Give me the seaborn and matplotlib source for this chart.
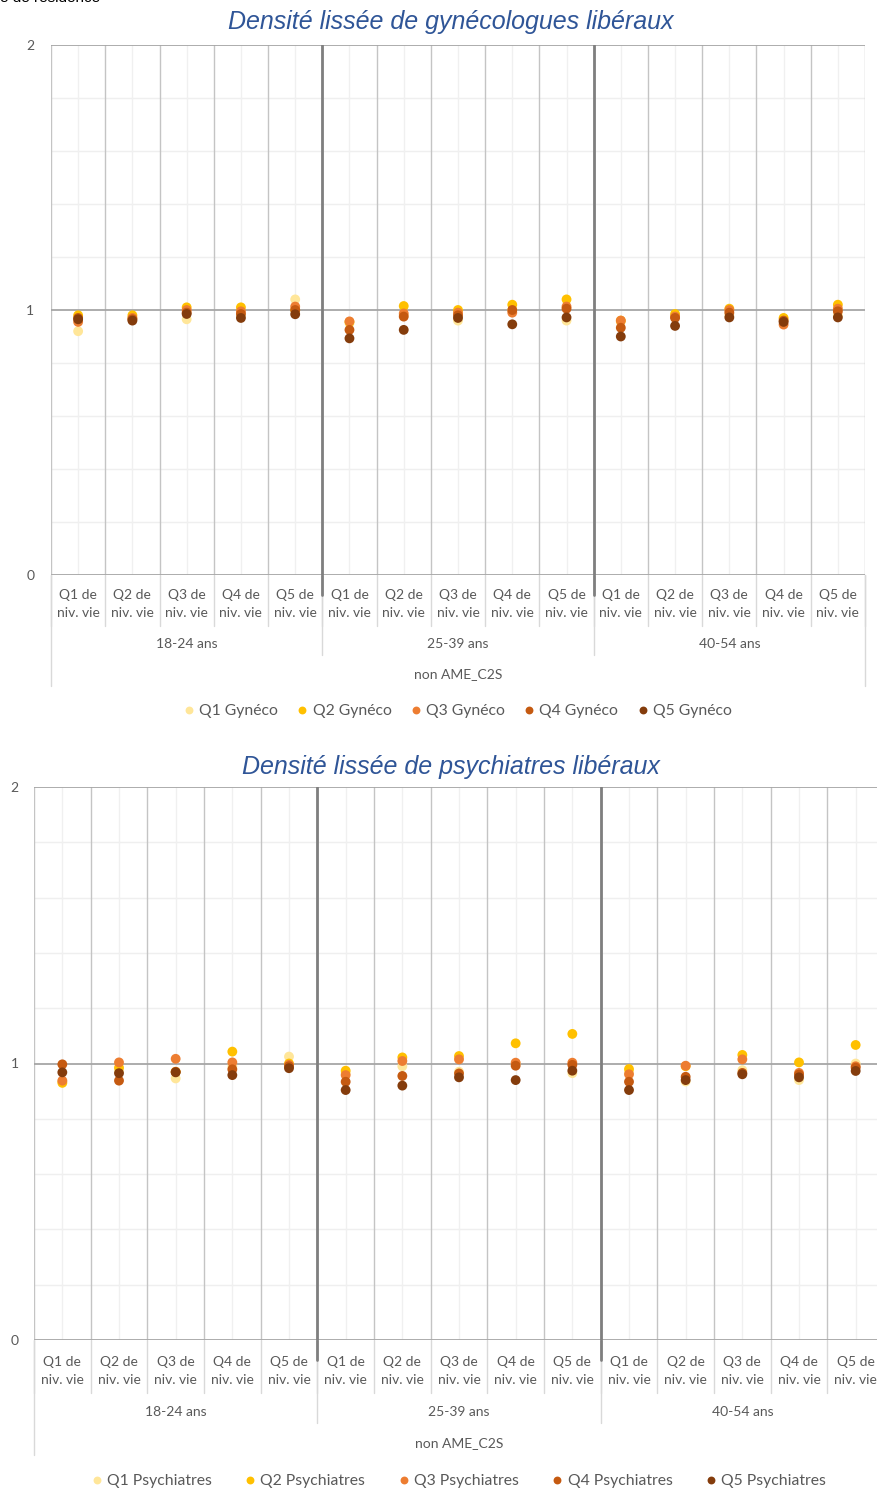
import numpy as np
import pandas as pd
import matplotlib.pyplot as plt
import seaborn as sns

# Catégories (axe x à deux niveaux)
niveaux = ["Q1 de\nniv. vie", "Q2 de\nniv. vie", "Q3 de\nniv. vie", "Q4 de\nniv. vie", "Q5 de\nniv. vie"]
ages = ["18-24 ans", "25-39 ans", "40-54 ans"]
groupe = "non AME_C2S"

# Densité lissée de gynécologues
gyn_q1 = [0.92, 0.97, 0.965, 0.98, 1.04, 0.95, 0.98, 0.96, 1.0, 0.96, 0.955, 0.975, 0.98, 0.965, 0.98]
gyn_q2 = [0.98, 0.98, 1.01, 1.01, 1.0, 0.955, 1.015, 1.0, 1.02, 1.04, 0.96, 0.985, 1.005, 0.97, 1.02]
gyn_q3 = [0.955, 0.97, 1.0, 0.995, 1.013, 0.957, 0.987, 0.99, 0.99, 1.013, 0.96, 0.975, 1.0, 0.945, 1.005]
gyn_q4 = [0.97, 0.965, 0.99, 0.985, 1.0, 0.925, 0.975, 0.98, 1.0, 1.005, 0.933, 0.97, 0.99, 0.96, 0.995]
gyn_q5 = [0.965, 0.96, 0.985, 0.97, 0.984, 0.893, 0.925, 0.97, 0.946, 0.972, 0.9, 0.94, 0.972, 0.955, 0.972]

# Densité lissée de psychiatres
psy_q1 = [0.935, 0.975, 0.946, 0.99, 1.025, 0.965, 0.99, 0.97, 1.0, 0.965, 0.97, 0.935, 0.976, 0.94, 1.0]
psy_q2 = [0.93, 0.985, 0.97, 1.043, 1.0, 0.974, 1.022, 1.027, 1.073, 1.107, 0.98, 0.99, 1.031, 1.004, 1.067]
psy_q3 = [0.938, 1.004, 1.017, 1.004, 0.995, 0.958, 1.009, 1.015, 1.003, 1.003, 0.961, 0.992, 1.015, 0.966, 0.99]
psy_q4 = [0.997, 0.938, 0.97, 0.979, 0.99, 0.934, 0.955, 0.964, 0.992, 0.995, 0.934, 0.952, 0.966, 0.96, 0.985]
psy_q5 = [0.968, 0.965, 0.968, 0.958, 0.983, 0.904, 0.92, 0.95, 0.94, 0.974, 0.904, 0.94, 0.961, 0.95, 0.973]

couleurs = ["#FFE699", "#FFC000", "#ED7D31", "#C55A11", "#843C0C"]

sns.set_style("white")
plt.rcParams['font.family'] = ['Lato', 'DejaVu Sans']

fig = plt.figure(figsize=(8.77, 14.92), dpi=100)
W, H = 877, 1492


def panneau(rect, series, noms, titre, title_y, off, ypad, colsp):
    l, t, r, b = rect
    ax = fig.add_axes([l / W, 1 - b / H, (r - l) / W, (b - t) / H])
    hpx = b - t
    n = len(ages) * len(niveaux)
    pos = np.arange(n)

    df = pd.concat([pd.DataFrame({'pos': pos, 'val': v, 'serie': nm})
                    for v, nm in zip(series, noms)], ignore_index=True)

    # grille
    for y in np.arange(0.2, 2.0, 0.2):
        if abs(y - 1) > 1e-6:
            ax.axhline(y, color='#EFEFEF', lw=1, zorder=0)
    for y in [0, 1, 2]:
        ax.axhline(y, color='#A6A6A6', lw=1.3, zorder=1)
    for x in pos:
        ax.axvline(x, color='#F0F0F0', lw=1, zorder=0)
    for x in np.arange(-0.5, n, 1):
        ax.axvline(x, color='#C4C4C4', lw=1, zorder=0.5)
    for x in [4.5, 9.5]:
        ax.axvline(x, color='#7F7F7F', lw=2, zorder=1)

    sns.scatterplot(data=df, x='pos', y='val', hue='serie', palette=couleurs,
                    s=50, linewidth=0, alpha=1, ax=ax, zorder=3)

    ax.set_xlim(-0.5, n - 0.5)
    ax.set_ylim(0, 2)
    ax.set_yticks([0, 1, 2])
    ax.set_yticklabels(['0', '1', '2'])
    ax.set_xticks(pos)
    ax.set_xticklabels([])
    ax.tick_params(axis='y', length=0, pad=ypad, labelsize=10, labelcolor='#595959')
    ax.tick_params(axis='x', length=4, color='#D9D9D9', width=1)
    ax.set_xlabel('')
    ax.set_ylabel('')
    for s in ax.spines.values():
        s.set_visible(False)

    tr = ax.get_xaxis_transform()
    f = lambda px: -px / hpx
    lab, grp, tot, leg = off
    # étiquettes et séparateurs sous l'axe
    for i, x in enumerate(pos):
        ax.text(x, f(lab), niveaux[i % 5], transform=tr, ha='center', va='center',
                fontsize=10, color='#595959', linespacing=1.65)
    for x in np.arange(-0.5, n, 1):
        ax.plot([x, x], [0, f(lab + 22)], transform=tr, color='#D9D9D9', lw=1, clip_on=False)
    for x in [4.5, 9.5]:
        ax.plot([x, x], [0, f(grp + 11)], transform=tr, color='#D9D9D9', lw=1, clip_on=False)
        ax.plot([x, x], [0, f(20)], transform=tr, color='#7F7F7F', lw=2, clip_on=False)
    for x in [-0.5, n - 0.5]:
        ax.plot([x, x], [0, f(tot + 12)], transform=tr, color='#D9D9D9', lw=1, clip_on=False)
    for g, a in enumerate(ages):
        ax.text(g * 5 + 2, f(grp), a, transform=tr, ha='center', va='center',
                fontsize=10, color='#595959')
    ax.text((n - 1) / 2, f(tot), groupe, transform=tr, ha='center', va='center',
            fontsize=10, color='#595959')

    sns.move_legend(ax, 'center', bbox_to_anchor=(0.5, f(leg)), ncol=5, frameon=False,
                    title=None, fontsize=11.3, markerscale=0.8, handletextpad=0.35,
                    handlelength=0.6, columnspacing=colsp, labelcolor='#595959')

    fig.text(0.514, 1 - title_y / H, titre, ha='center', va='center', fontsize=18,
             style='italic', color='#2F5597', family=['Liberation Sans', 'DejaVu Sans'])
    return ax


panneau((51, 45, 865, 575), [gyn_q1, gyn_q2, gyn_q3, gyn_q4, gyn_q5],
        ["Q1 Gynéco", "Q2 Gynéco", "Q3 Gynéco", "Q4 Gynéco", "Q5 Gynéco"],
        "Densité lissée de gynécologues libéraux", 22, (29, 69, 99, 136), 12, 1.25)
panneau((34, 787, 884, 1340), [psy_q1, psy_q2, psy_q3, psy_q4, psy_q5],
        ["Q1 Psychiatres", "Q2 Psychiatres", "Q3 Psychiatres", "Q4 Psychiatres", "Q5 Psychiatres"],
        "Densité lissée de psychiatres libéraux", 767, (31, 72, 103, 141), 11, 2.15)

# texte coupé en haut à gauche
fig.text(0.0, 1 - 2 / H, "e de résidence", ha='left', va='baseline', fontsize=11,
         color='#000000', family=['Liberation Sans', 'DejaVu Sans'])

plt.savefig('out.png', dpi=100)
